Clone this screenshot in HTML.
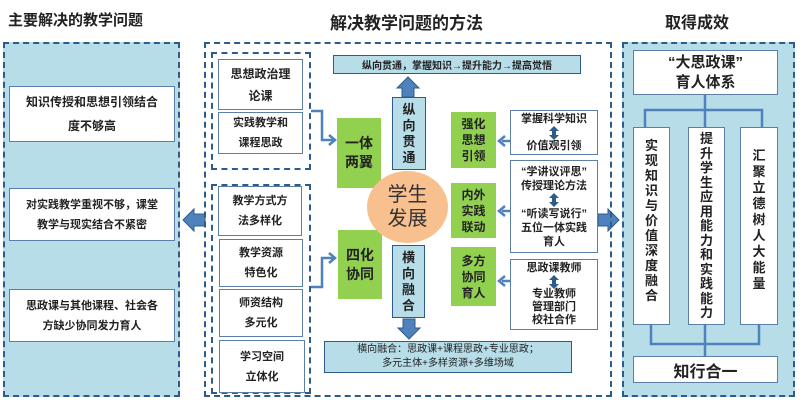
<!DOCTYPE html>
<html><head><meta charset="utf-8"><style>
*{margin:0;padding:0;box-sizing:border-box}
body{width:800px;height:400px;background:#fff;position:relative;overflow:hidden;font-family:"Liberation Sans","Noto Sans CJK SC",sans-serif;font-weight:bold;color:#222}
.a{position:absolute}
.dash{border:2px dashed #2e5c8a}
.wb{background:#fff;border:1px solid #5b7fa6;display:flex;align-items:center;justify-content:center;text-align:center}
.g{background:#92d050;display:flex;align-items:center;justify-content:center;text-align:center;font-size:14px;line-height:19px}
.lb{background:#b7dde8;border:1px solid #2e5c8a;display:flex;align-items:center;justify-content:center;text-align:center}
.t{font-size:11px;line-height:20px}
.col{background:#fff;border:1px solid #5b7fa6;display:flex;flex-direction:column;align-items:center;text-align:center;font-size:13px}
</style></head><body>
<div class="a" style="left:8px;top:9px;font-size:15px">主要解决的教学问题</div>
<div class="a" style="left:330px;top:9px;font-size:17px">解决教学问题的方法</div>
<div class="a" style="left:665px;top:9px;font-size:16px">取得成效</div>

<div class="a dash" style="left:3px;top:42px;width:177px;height:355px;background:#b7dde8"></div>
<div class="a wb t" style="left:9px;top:86px;width:166px;height:56px;font-size:12px;line-height:24px">知识传授和思想引领结合<br>度不够高</div>
<div class="a wb t" style="left:9px;top:188px;width:166px;height:53px">对实践教学重视不够，课堂<br>教学与现实结合不紧密</div>
<div class="a wb t" style="left:9px;top:289px;width:166px;height:53px">思政课与其他课程、社会各<br>方缺少协同发力育人</div>

<svg class="a" style="left:0;top:0" width="800" height="400">
<path d="M183 220 L194 209 L194 214 L205 214 L205 226 L194 226 L194 231 Z" fill="#4f81bd" stroke="#2e5c8a"/>
<path d="M619 220 L608 209 L608 214 L598 214 L598 226 L608 226 L608 231 Z" fill="#4f81bd" stroke="#2e5c8a"/>
</svg>

<div class="a dash" style="left:204px;top:42px;width:408px;height:355px"></div>
<div class="a dash" style="left:211px;top:52px;width:100px;height:118px"></div>
<div class="a dash" style="left:211px;top:184px;width:100px;height:210px"></div>
<div class="a wb t" style="left:218px;top:59px;width:85px;height:51px;font-size:12px;line-height:22px">思想政治理<br>论课</div>
<div class="a wb t" style="left:218px;top:112px;width:85px;height:42px">实践教学和<br>课程思政</div>
<div class="a wb t" style="left:218px;top:186px;width:84px;height:50px">教学方式方<br>法多样化</div>
<div class="a wb t" style="left:219px;top:239px;width:84px;height:48px">教学资源<br>特色化</div>
<div class="a wb t" style="left:219px;top:289px;width:84px;height:48px">师资结构<br>多元化</div>
<div class="a wb t" style="left:219px;top:340px;width:86px;height:53px">学习空间<br>立体化</div>

<div class="a g" style="left:337px;top:118px;width:44px;height:70px">一体<br>两翼</div>
<div class="a g" style="left:338px;top:230px;width:44px;height:69px">四化<br>协同</div>

<div class="a lb" style="left:333px;top:55px;width:248px;height:19px;font-size:10px">纵向贯通，掌握知识→提升能力→提高觉悟</div>
<div class="a lb" style="left:392px;top:97px;width:34px;height:73px;font-size:13px;line-height:16px">纵<br>向<br>贯<br>通</div>
<div class="a" style="left:367px;top:171px;width:81px;height:72px;border-radius:50%;background:#f9c08f;display:flex;align-items:center;justify-content:center;text-align:center;font-size:20px;line-height:24px;color:#333;font-weight:normal">学生<br>发展</div>
<div class="a lb" style="left:392px;top:245px;width:33px;height:73px;font-size:13px;line-height:16px">横<br>向<br>融<br>合</div>
<div class="a lb" style="left:324px;top:341px;width:248px;height:32px;font-size:10px;line-height:14px;font-weight:normal">横向融合：思政课+课程思政+专业思政；<br>多元主体+多样资源+多维场域</div>

<div class="a g" style="left:451px;top:112px;width:45px;height:56px;font-size:12px;line-height:16px">强化<br>思想<br>引领</div>
<div class="a g" style="left:451px;top:183px;width:45px;height:55px;font-size:12px;line-height:16px">内外<br>实践<br>联动</div>
<div class="a g" style="left:451px;top:247px;width:45px;height:59px;font-size:12px;line-height:16px">多方<br>协同<br>育人</div>

<div class="a wb" style="left:510px;top:110px;width:88px;height:45px;font-size:11px;line-height:27px">掌握科学知识<br>价值观引领</div>
<div class="a wb" style="left:510px;top:160px;width:88px;height:93px;font-size:11px;line-height:14px">“学讲议评思”<br>传授理论方法<br><br>“听读写说行”<br>五位一体实践<br>育人</div>
<div class="a wb" style="left:510px;top:259px;width:88px;height:71px;font-size:11px;line-height:13px">思政课教师<br><br>专业教师<br>管理部门<br>校社合作</div>

<svg class="a" style="left:0;top:0" width="800" height="400">
<g stroke="#4f81bd" stroke-width="2.5" fill="none">
<path d="M311 111 H322 V140 H334"/><path d="M329 135 L335 140 L329 145"/>
<path d="M311 287 H322 V258 H335"/><path d="M329 253 L335 258 L329 263"/>
<path d="M510 141 H502"/><path d="M505 136 L499 141 L505 146"/>
<path d="M510 211 H502"/><path d="M505 206 L499 211 L505 216"/>
<path d="M510 281 H502"/><path d="M505 276 L499 281 L505 286"/>
</g>
<path d="M402 97 V88 H397 L408 77 L419 88 H414 V97 Z" fill="#4f81bd" stroke="#2e5c8a"/>
<path d="M403 319 V328 H398 L409 339 L420 328 H415 V319 Z" fill="#4f81bd" stroke="#2e5c8a"/>
<g fill="#2e5c8a">
<path d="M554 126 L549 131 L559 131 Z M554 140 L549 135 L559 135 Z"/>
<path d="M554 193 L549 198 L559 198 Z M554 207 L549 202 L559 202 Z"/>
<path d="M554 275 L549 280 L559 280 Z M554 289 L549 284 L559 284 Z"/>
<rect x="552" y="130" width="4" height="6"/><rect x="552" y="197" width="4" height="6"/><rect x="552" y="279" width="4" height="6"/>
</g>
</svg>

<div class="a dash" style="left:622px;top:42px;width:173px;height:355px;background:#b7dde8"></div>
<div class="a wb" style="left:633px;top:50px;width:145px;height:45px;font-size:15px;line-height:20px">“大思政课”<br>育人体系</div>
<svg class="a" style="left:0;top:0" width="800" height="400"><g stroke="#4f81bd" stroke-width="2.5" fill="none"><path d="M705 95 V110 M645 127 V110 H762 V127 M705 110 V127"/><path d="M651 325 V344 H759 V325 M705 325 V356"/></g></svg>
<div class="a col" style="left:633px;top:127px;width:37px;height:198px;padding-top:10px;line-height:15px">实<br>现<br>知<br>识<br>与<br>价<br>值<br>深<br>度<br>融<br>合</div>
<div class="a col" style="left:688px;top:127px;width:37px;height:198px;padding-top:4px;line-height:14.5px">提<br>升<br>学<br>生<br>应<br>用<br>能<br>力<br>和<br>实<br>践<br>能<br>力</div>
<div class="a col" style="left:740px;top:127px;width:38px;height:198px;padding-top:20px;line-height:16px">汇<br>聚<br>立<br>德<br>树<br>人<br>大<br>能<br>量</div>
<div class="a wb" style="left:633px;top:356px;width:145px;height:27px;font-size:16px">知行合一</div>
</body></html>
